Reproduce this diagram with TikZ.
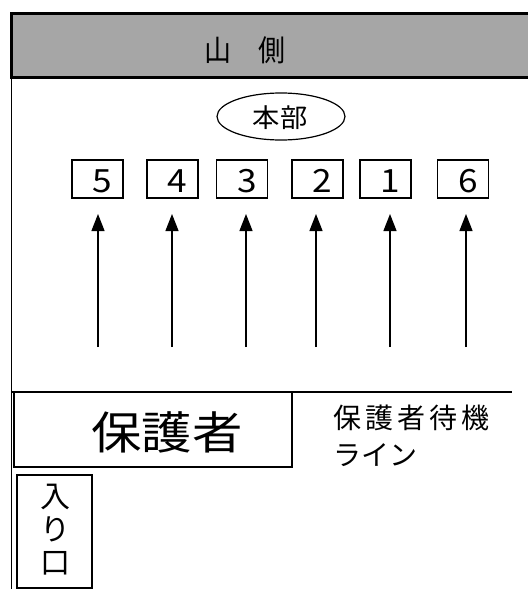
\documentclass[tikz,border=0pt]{standalone}
\usepackage{fontspec}
\setmainfont{Noto Sans CJK JP}
\newfontfamily\jpfont{Noto Sans CJK JP}
\usetikzlibrary{arrows.meta,shapes.geometric}
\definecolor{hdrgray}{HTML}{A6A6A6}
\tikzset{
  numbox/.style={draw=black,line width=1.2pt,minimum width=51pt,minimum height=38pt,inner sep=0pt},
  numtxt/.style={font=\jpfont\fontsize{32}{32}\selectfont,inner sep=0pt},
  uparrow/.style={line width=1.3pt,-{Triangle[length=17pt,width=13pt]}},
  plainbox/.style={draw=black,line width=1.3pt,inner sep=0pt},
}
\begin{document}
\begin{tikzpicture}[x=1pt,y=-1pt]
\useasboundingbox (0,0) rectangle (528,589);
% header band
\fill[hdrgray] (12,13) rectangle (528,77);
\draw[line width=3pt] (528,13) -- (11,13) -- (11,77) -- (528,77);
\node[inner sep=0pt,font=\jpfont\fontsize{27}{27}\selectfont] (hdr) at (245,50) {\scalebox{1}[1.1]{山　側}};
% left border
\draw[line width=1.4pt] (11.5,77) -- (11.5,589);
% headquarters
\node[draw=black,line width=1.2pt,ellipse,minimum width=128pt,minimum height=47pt,inner sep=0pt] (hq) at (281,116.5) {};
\node[inner sep=0pt,font=\jpfont\fontsize{26}{26}\selectfont] (hqt) at (280,118) {\scalebox{1.05}[1]{本部}};
% numbered boxes
\foreach \n/\x/\tx in {5/97.5/98, 4/172.5/172, 3/242/246, 2/317.5/316, 1/385.5/390, 6/463/466}{
  \node[numbox] (b\n) at (\x,179) {};
  \node[numtxt] (t\n) at (\x+5,181) {\scalebox{1.1}[1]{\n}};
  \coordinate (s\n) at (\tx,347);
  \coordinate (e\n) at (\tx,214);
  \draw[uparrow] (s\n) -- (e\n);
}
% guardian waiting line
\coordinate (la) at (11.5,392);
\coordinate (lb) at (512,392);
\draw[line width=2pt] (la) -- (lb);
\draw[plainbox] (14,392) rectangle (292,467);
\node[inner sep=0pt,font=\jpfont\fontsize{45}{45}\selectfont] (pg) at (167,432) {\scalebox{1.12}[1]{保護者}};
\node[inner sep=0pt,anchor=west,font=\jpfont\fontsize{28}{28}\selectfont] (wl1) at (333,418) {保\hspace{4pt}護\hspace{4pt}者\hspace{4pt}待\hspace{4pt}機};
\node[inner sep=0pt,anchor=west,font=\jpfont\fontsize{28}{28}\selectfont] (wl2) at (333,455) {ライン};
% entrance
\draw[plainbox] (17,475) rectangle (92,588);
\node[inner sep=0pt,align=center,font=\jpfont\fontsize{30}{33}\selectfont] (ent) at (55,530) {入\\り\\口};
\end{tikzpicture}
\end{document}
